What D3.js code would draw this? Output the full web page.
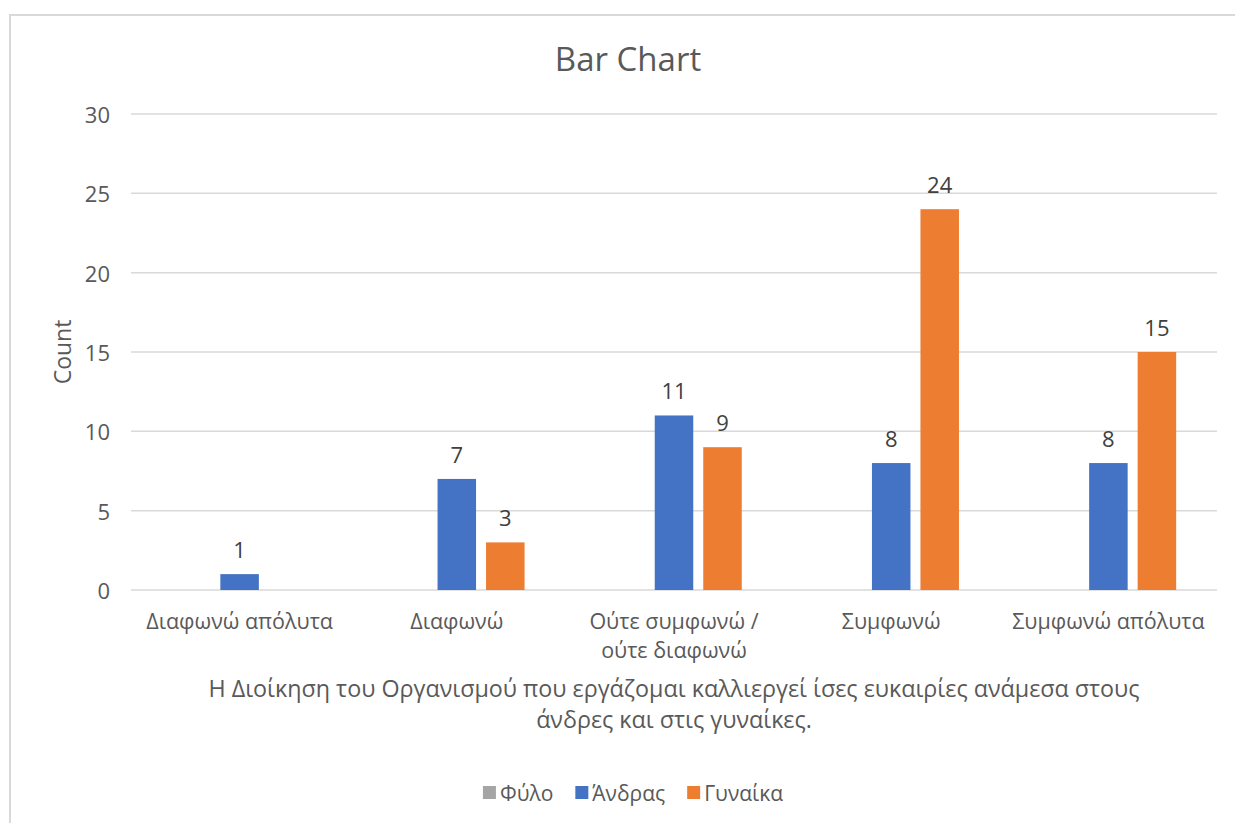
<!DOCTYPE html>
<html>
<head>
<meta charset="utf-8">
<script src="https://cdn.jsdelivr.net/npm/d3@7"></script>
<style>
  html, body { margin: 0; padding: 0; background: #fff; }
  svg { display: block; font-family: "Open Sans", "Noto Sans", sans-serif; }
</style>
</head>
<body>
<svg id="chart" width="1235" height="823"></svg>
<script>
// Response categories (x axis), each may wrap to two lines
const categories = ["Διαφωνώ απόλυτα", "Διαφωνώ", "Ούτε συμφωνώ / ούτε διαφωνώ", "Συμφωνώ", "Συμφωνώ απόλυτα"];
const categoryLines = [["Διαφωνώ απόλυτα"], ["Διαφωνώ"], ["Ούτε συμφωνώ /", "ούτε διαφωνώ"], ["Συμφωνώ"], ["Συμφωνώ απόλυτα"]];

// Series
const seriesNames = ["Φύλο", "Άνδρας", "Γυναίκα"];
const fyloValues = [null, null, null, null, null];
const andrasValues = [1, 7, 11, 8, 8];
const gynaikaValues = [null, 3, 9, 24, 15];

// Y axis ticks
const yTicks = [0, 5, 10, 15, 20, 25, 30];

const chartTitle = "Bar Chart";
const yTitle = "Count";
const xTitleLines = ["Η Διοίκηση του Οργανισμού που εργάζομαι καλλιεργεί ίσες ευκαιρίες ανάμεσα στους", "άνδρες και στις γυναίκες."];

const colors = { "Φύλο": "#A5A5A5", "Άνδρας": "#4472C4", "Γυναίκα": "#ED7D31" };
const seriesValues = [fyloValues, andrasValues, gynaikaValues];

const svg = d3.select("#chart");

// Chart area frame
svg.append("rect")
  .attr("x", 10).attr("y", 15)
  .attr("width", 1240).attr("height", 820)
  .attr("fill", "none").attr("stroke", "#D9D9D9").attr("stroke-width", 2);

const plot = { left: 131, right: 1217, top: 114, bottom: 590 };

const y = d3.scaleLinear().domain([0, 30]).range([plot.bottom, plot.top]);
const x0 = d3.scaleBand().domain(categories).range([plot.left, plot.right])
  .paddingInner(0.376).paddingOuter(0.188);
const x1 = d3.scaleBand().domain(seriesNames).range([0, x0.bandwidth()])
  .paddingInner(0.206).paddingOuter(0);

// Gridlines
svg.append("g").selectAll("line").data(yTicks).join("line")
  .attr("x1", plot.left).attr("x2", plot.right)
  .attr("y1", d => y(d)).attr("y2", d => y(d))
  .attr("stroke", "#D9D9D9").attr("stroke-width", 1.5);

// Y tick labels
svg.append("g").selectAll("text").data(yTicks).join("text")
  .attr("x", 110).attr("y", d => y(d))
  .attr("text-anchor", "end").attr("dominant-baseline", "central")
  .attr("font-size", 22).attr("fill", "#595959")
  .text(d => d);

// Y axis title
svg.append("text")
  .attr("transform", "translate(62," + ((plot.top + plot.bottom) / 2) + ") rotate(-90)")
  .attr("text-anchor", "middle").attr("dominant-baseline", "central")
  .attr("font-size", 23).attr("fill", "#595959")
  .text(yTitle);

// Bars
const barData = [];
categories.forEach((c, i) => {
  seriesNames.forEach((s, j) => {
    const v = seriesValues[j][i];
    if (v !== null && v !== undefined) barData.push({ cat: c, series: s, value: v });
  });
});

svg.append("g").selectAll("rect").data(barData).join("rect")
  .attr("x", d => x0(d.cat) + x1(d.series))
  .attr("y", d => y(d.value))
  .attr("width", x1.bandwidth())
  .attr("height", d => y(0) - y(d.value))
  .attr("fill", d => colors[d.series]);

// Value labels
svg.append("g").selectAll("text").data(barData).join("text")
  .attr("x", d => x0(d.cat) + x1(d.series) + x1.bandwidth() / 2)
  .attr("y", d => y(d.value) - 16)
  .attr("text-anchor", "middle")
  .attr("font-size", 22).attr("fill", "#404040")
  .text(d => d.value);

// Category labels
const catG = svg.append("g");
categories.forEach((c, i) => {
  const t = catG.append("text")
    .attr("x", x0(c) + x0.bandwidth() / 2)
    .attr("y", 629)
    .attr("text-anchor", "middle")
    .attr("font-size", 21.5).attr("fill", "#595959");
  categoryLines[i].forEach((line, k) => {
    t.append("tspan").attr("x", x0(c) + x0.bandwidth() / 2).attr("dy", k === 0 ? 0 : 29).text(line);
  });
});

// X axis title
const xt = svg.append("text")
  .attr("x", (plot.left + plot.right) / 2).attr("y", 697)
  .attr("text-anchor", "middle")
  .attr("font-size", 23.3).attr("fill", "#595959");
xTitleLines.forEach((line, k) => {
  xt.append("tspan").attr("x", (plot.left + plot.right) / 2).attr("dy", k === 0 ? 0 : 31).text(line);
});

// Chart title
svg.append("text")
  .attr("x", 628).attr("y", 71)
  .attr("text-anchor", "middle")
  .attr("font-size", 33).attr("fill", "#595959")
  .text(chartTitle);

// Legend
const legend = svg.append("g");
let lx = 0;
seriesNames.forEach(s => {
  const g = legend.append("g").attr("transform", "translate(" + lx + ",0)");
  g.append("rect").attr("x", 0).attr("y", -6.5).attr("width", 13).attr("height", 13).attr("fill", colors[s]);
  const t = g.append("text").attr("x", 17).attr("y", 0)
    .attr("dominant-baseline", "central")
    .attr("font-size", 21).attr("fill", "#595959").text(s);
  lx += 17 + t.node().getComputedTextLength() + 22;
});
const legendW = lx - 22;
legend.attr("transform", "translate(" + (633 - legendW / 2) + ",792.5)");
</script>
</body>
</html>
